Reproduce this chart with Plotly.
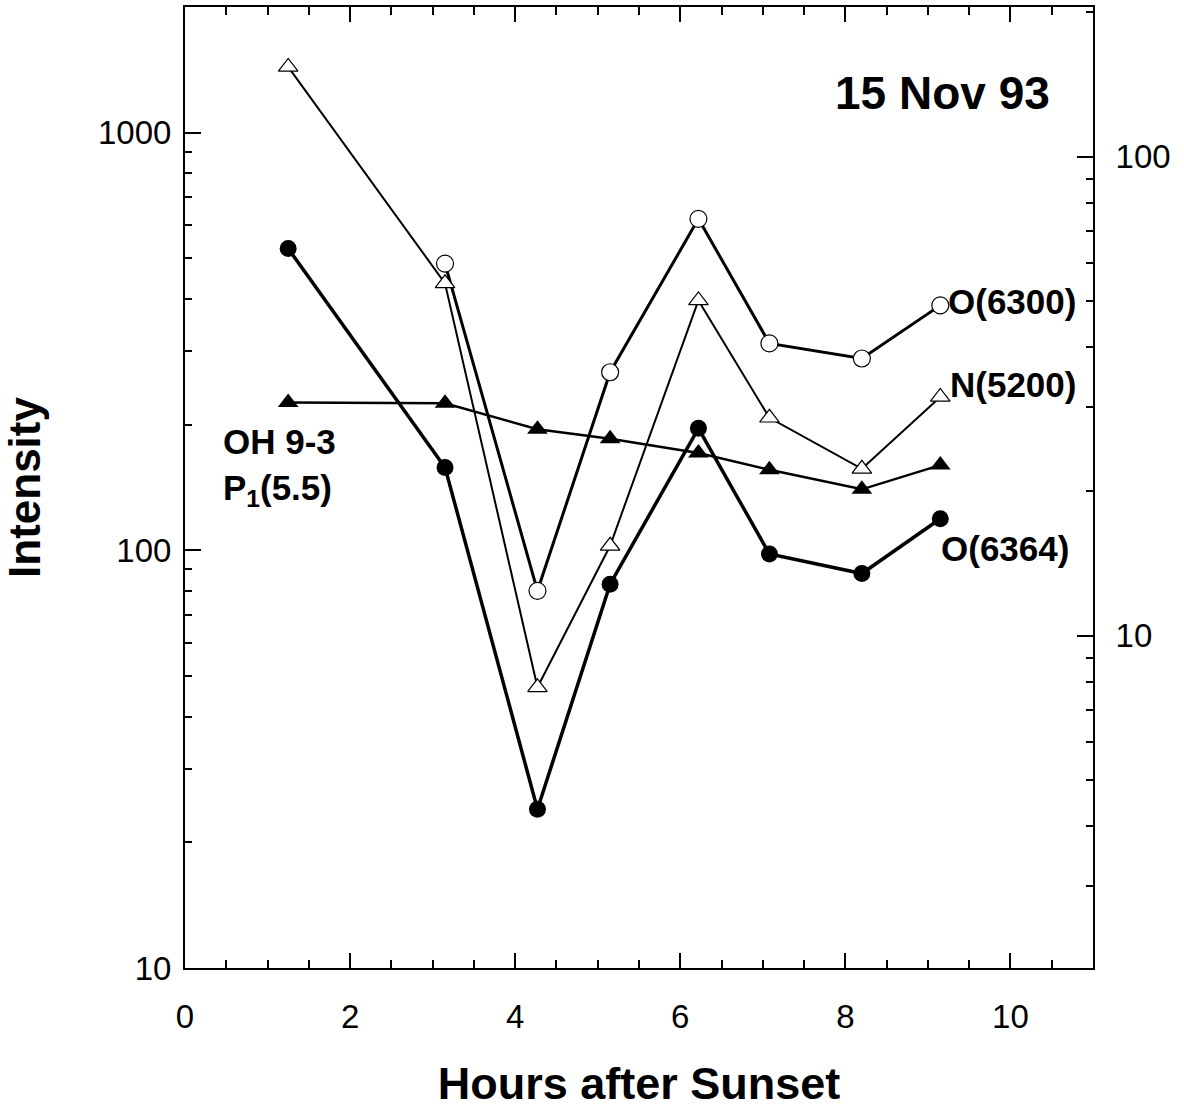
import plotly.graph_objects as go

# Hours after sunset
hours = [1.25, 3.15, 4.27, 5.15, 6.22, 7.08, 8.2, 9.15]

# O(6300) open circles (left axis), no first point
o6300_hours = [3.15, 4.27, 5.15, 6.22, 7.08, 8.2, 9.15]
o6300 = [486, 80, 267, 622, 313, 288, 386]

# O(6364) filled circles (left axis)
o6364 = [528, 158, 24, 83, 196, 98, 88, 119]

# OH 9-3 P1(5.5) filled triangles (left axis)
oh93 = [226, 225, 195, 185, 171, 156, 140, 160]

# N(5200) open triangles (right axis)
n5200 = [154, 54.4, 7.8, 15.4, 50.1, 28.5, 22.3, 31.5]

left_ticks = [10, 100, 1000]
right_ticks = [10, 100]
left_minor = [v * m for v in (10, 100, 1000) for m in range(2, 10) if v * m < 2000]
right_minor = [v * m for v in (1, 10, 100) for m in range(2, 10) if 2.05 < v * m < 205]

FONT = "Liberation Sans, Arial, Helvetica, sans-serif"

fig = go.Figure()

fig.add_trace(go.Scatter(
    x=hours, y=oh93, mode="lines+markers", name="OH 9-3 P1(5.5)",
    line=dict(color="black", width=2.5),
    marker=dict(symbol="triangle-up", size=18, color="black"),
))
fig.add_trace(go.Scatter(
    x=hours, y=n5200, mode="lines+markers", name="N(5200)", yaxis="y2",
    line=dict(color="black", width=2),
    marker=dict(symbol="triangle-up", size=17, color="white",
                line=dict(color="black", width=1.2)),
))
fig.add_trace(go.Scatter(
    x=hours, y=o6364, mode="lines+markers", name="O(6364)",
    line=dict(color="black", width=3.5),
    marker=dict(symbol="circle", size=17, color="black"),
))
fig.add_trace(go.Scatter(
    x=o6300_hours, y=o6300, mode="lines+markers", name="O(6300)",
    line=dict(color="black", width=3),
    marker=dict(symbol="circle", size=17, color="white",
                line=dict(color="black", width=1.2)),
))

L, R, T, B = 185, 91, 5, 144
W, H = 1184, 1112
pw, ph = W - L - R, H - T - B


def px(xp):
    return (xp - L) / pw


def py(yp):
    return (H - B - yp) / ph


lab_font = dict(family=FONT, size=35, color="black", weight="bold")
annotations = [
    dict(x=px(942), y=py(91), text="15 Nov 93", xanchor="center", yanchor="middle",
         font=dict(family=FONT, size=46, color="black", weight="bold")),
    dict(x=px(946), y=py(300), text="O(6300)", xanchor="left", yanchor="middle", font=lab_font),
    dict(x=px(948), y=py(383), text="N(5200)", xanchor="left", yanchor="middle", font=lab_font),
    dict(x=px(939), y=py(548), text="O(6364)", xanchor="left", yanchor="middle", font=lab_font),
    dict(x=px(221), y=py(466), text="OH 9-3<br>P<sub>1</sub>(5.5)", xanchor="left",
         yanchor="middle", align="left", font=lab_font),
]
for a in annotations:
    a.update(xref="paper", yref="paper", showarrow=False)

tick_font = dict(family=FONT, size=33, color="black")

fig.update_layout(
    width=W, height=H,
    margin=dict(l=L, r=R, t=T, b=B),
    paper_bgcolor="white", plot_bgcolor="white",
    showlegend=False,
    annotations=annotations,
    xaxis=dict(
        range=[0, 11], tickmode="array", tickvals=[0, 2, 4, 6, 8, 10],
        ticks="inside", ticklen=15, tickwidth=2, tickcolor="black",
        minor=dict(ticks="inside", ticklen=8, tickwidth=2, tickcolor="black", dtick=0.5, showgrid=False),
        showline=True, linecolor="black", linewidth=2, mirror="ticks",
        showgrid=False, zeroline=False,
        tickfont=tick_font, ticklabelstandoff=18,
        title=dict(text="Hours after Sunset", standoff=34,
                   font=dict(family=FONT, size=45, color="black", weight="bold")),
    ),
    yaxis=dict(
        type="log", range=[1, 3.301], tickmode="array", tickvals=left_ticks,
        ticktext=[str(v) for v in left_ticks],
        ticks="inside", ticklen=16, tickwidth=2, tickcolor="black",
        minor=dict(ticks="inside", ticklen=7, tickwidth=2, tickcolor="black",
                   tickvals=left_minor, showgrid=False),
        showline=True, linecolor="black", linewidth=2, mirror=False,
        showgrid=False, zeroline=False,
        tickfont=tick_font, ticklabelstandoff=5,
        title=dict(text="Intensity", standoff=44,
                   font=dict(family=FONT, size=44, color="black", weight="bold")),
    ),
    yaxis2=dict(
        type="log", range=[0.306, 2.3125], overlaying="y", side="right",
        tickmode="array", tickvals=right_ticks, ticktext=[str(v) for v in right_ticks],
        ticks="inside", ticklen=16, tickwidth=2, tickcolor="black",
        minor=dict(ticks="inside", ticklen=7, tickwidth=2, tickcolor="black",
                   tickvals=right_minor, showgrid=False),
        showline=True, linecolor="black", linewidth=2,
        showgrid=False, zeroline=False,
        tickfont=tick_font, ticklabelstandoff=14,
    ),
)

fig.write_html("out.html")
